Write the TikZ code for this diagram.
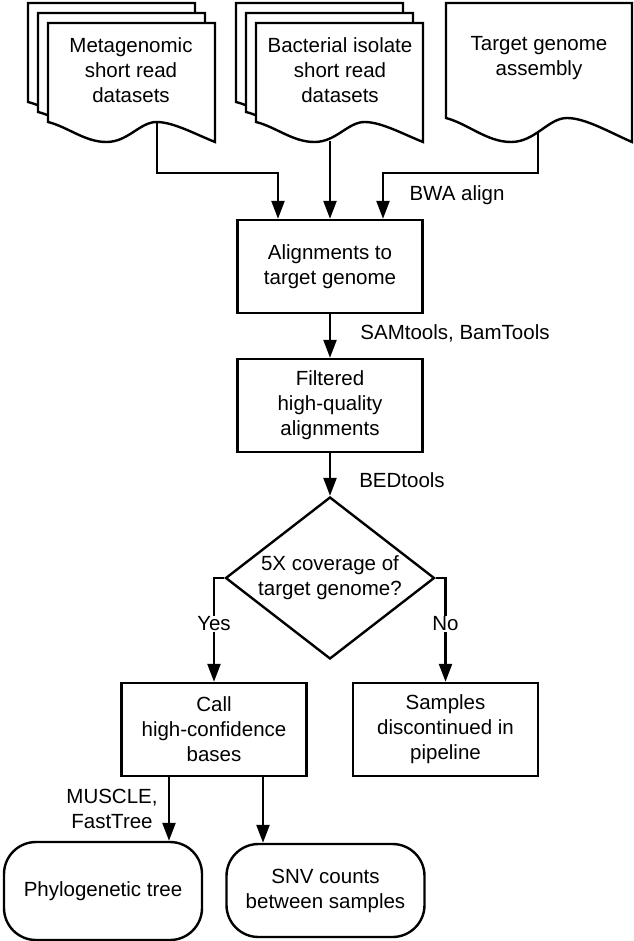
\documentclass[tikz,border=0pt]{standalone}
\usepackage{fontspec}
\setmainfont{Liberation Sans}
\usetikzlibrary{shapes.geometric,arrows.meta}
\tikzset{
  >={Triangle[length=18pt,width=13pt]},
}
\tikzstyle{every node}=[font=\fontsize{20.5}{25}\selectfont]
\tikzstyle{sheet}=[line width=2.4pt,fill=white]
\tikzstyle{flow}=[line width=2.4pt,->]
\tikzstyle{box}=[draw,line width=2.4pt,minimum width=185pt,minimum height=93pt,align=center]
\tikzstyle{terminal}=[draw,line width=2.4pt,rounded corners=32pt,minimum width=198pt,align=center]
\tikzstyle{decision}=[draw,line width=2.4pt,diamond,aspect=1.29,inner sep=0pt,
  minimum width=209pt,minimum height=162pt,align=center]
\tikzstyle{tool}=[align=center]
\newcommand{\docsheet}[5]{%
  \begin{scope}[shift={(#1,#2)}]
    \filldraw[sheet] (0,0) -- (#3,0) -- (#3,#4)
      .. controls (0.88*#3,#4-0.4*#5) and (0.75*#3,#4-#5) .. (0.65*#3,#4-#5)
      .. controls (0.55*#3,#4-#5) and (0.48*#3,#4) .. (0.35*#3,#4)
      .. controls (0.22*#3,#4) and (0.12*#3,#4-0.75*#5) .. (0,#4-#5) -- cycle;
  \end{scope}}

\begin{document}
\begin{tikzpicture}[x=1pt,y=-1pt]
    \useasboundingbox (0,0) rectangle (633,941);
    \docsheet{28}{3}{167}{119}{20}
    \docsheet{38}{13}{167}{119}{20}
    \docsheet{48}{23}{167}{119}{20}
    \docsheet{236}{3}{167}{119}{20}
    \docsheet{246}{13}{167}{119}{20}
    \docsheet{256}{23}{167}{119}{20}
    \docsheet{446}{3}{186}{139}{24}
    \node[tool] (metatext) at (131,70) {Metagenomic\\short read\\datasets};
    \node[tool] (bacttext) at (340,70) {Bacterial isolate\\short read\\datasets};
    \node[tool] (targtext) at (539,58) {Target genome\\assembly};
    \coordinate (meta) at (157,122);
    \coordinate (bact) at (330,141);
    \coordinate (targ) at (538,131);

    \node[box] (align) at (330,266.5) {Alignments to\\target genome};
    \node[box] (filtered) at (330,405.5) {Filtered\\high-quality\\alignments};
    \node[decision] (check) at (330,578) {5X coverage of\\target genome?};
    \node[box] (call) at (214,729.5) {Call\\high-confidence\\bases};
    \node[box] (samples) at (445.5,729.5) {Samples\\discontinued in\\pipeline};
    \node[terminal,minimum height=98pt] (phylo) at (103,891) {Phylogenetic tree};
    \node[terminal,minimum height=93pt] (snv) at (325.5,890.5) {SNV counts\\between samples};

    \draw[flow] (meta) -- ++(0,51) -| ([xshift=-52pt]align.north);
    \draw[flow] (bact) -- (align.north);
    \draw[flow] (targ) -- ++(0,42) -| ([xshift=53pt]align.north);
    \node (bwa) at (457,195) {BWA align};
    \draw[flow] (align) -- (filtered);
    \node (samtools) at (455,333) {SAMtools, BamTools};
    \draw[flow] (filtered) -- (check);
    \node (bedtools) at (402,480) {BEDtools};
    \draw[flow] (check.west) -| node[pos=0.72,fill=white,inner sep=1pt] {Yes} (call.north);
    \draw[flow] (check.east) -| node[pos=0.72,fill=white,inner sep=1pt] {No} (samples.north);
    \draw[flow] ([xshift=-45pt]call.south) -- ([xshift=-45pt]call.south |- phylo.north);
    \draw[flow] ([xshift=49pt]call.south) -- ([xshift=49pt]call.south |- snv.north);
    \node[tool] (muscle) at (112,809) {MUSCLE,\\FastTree};
\end{tikzpicture}
\end{document}
